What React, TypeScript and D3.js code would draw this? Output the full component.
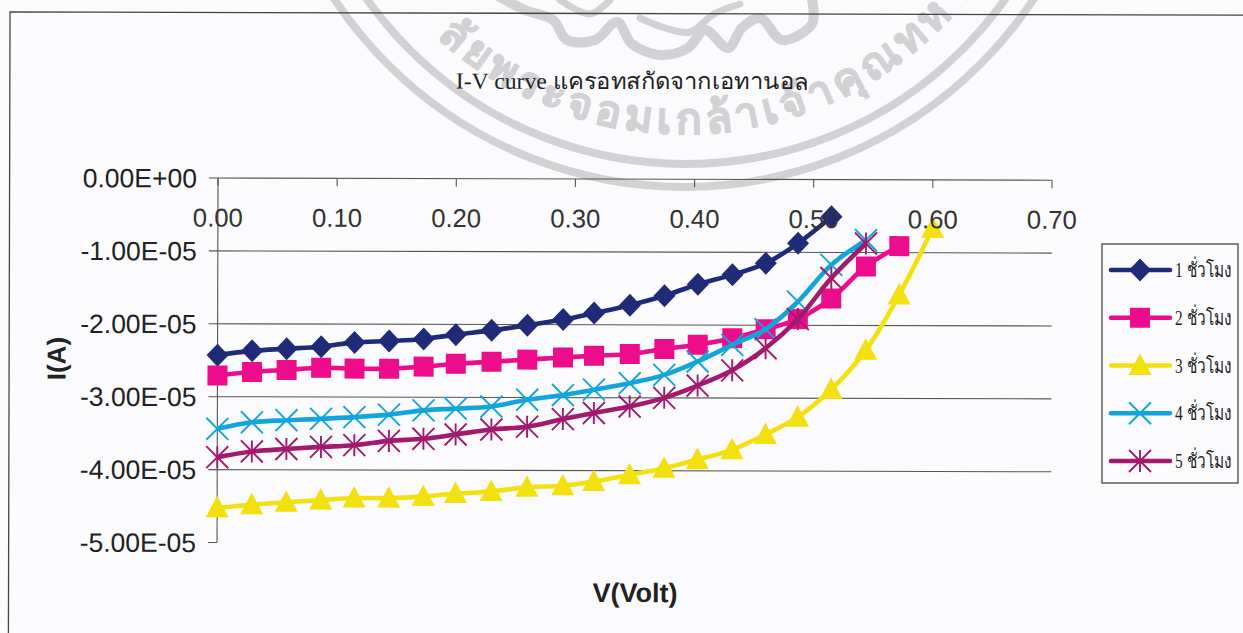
import React from "react";
import * as d3 from "d3";

const voltages = [0, .029, .058, .087, .115, .144, .173, .2, .23, .26, .29, .316, .346, .375, .403, .432, .46, .487, .515, .544, .572, .6];
const hour1 = [-2.43,-2.37,-2.34,-2.31,-2.25,-2.23,-2.20,-2.14,-2.08,-2.01,-1.93,-1.84,-1.73,-1.60,-1.44,-1.31,-1.15,-.875,-.51];
const hour2 = [-2.71,-2.66,-2.63,-2.60,-2.61,-2.61,-2.58,-2.54,-2.51,-2.48,-2.45,-2.425,-2.40,-2.33,-2.27,-2.18,-2.055,-1.915,-1.63,-1.19,-.91];
const hour3 = [-4.525,-4.48,-4.445,-4.415,-4.385,-4.385,-4.36,-4.32,-4.29,-4.23,-4.21,-4.15,-4.055,-3.965,-3.845,-3.71,-3.50,-3.26,-2.88,-2.34,-1.58,-.665];
const hour4 = [-3.44,-3.35,-3.32,-3.30,-3.275,-3.24,-3.18,-3.155,-3.125,-3.03,-2.965,-2.89,-2.80,-2.685,-2.50,-2.27,-2.055,-1.675,-1.17,-.83];
const hour5 = [-3.83,-3.75,-3.715,-3.685,-3.66,-3.60,-3.57,-3.51,-3.44,-3.40,-3.295,-3.21,-3.12,-3.00,-2.83,-2.62,-2.315,-1.915,-1.35,-.875];
const seriesValues = [hour1, hour2, hour3, hour4, hour5];
const seriesNames = ["1 ชั่วโมง", "2 ชั่วโมง", "3 ชั่วโมง", "4 ชั่วโมง", "5 ชั่วโมง"];
const seriesColors = ["#1f2a78", "#ec0c8c", "#f2e10f", "#12a5dc", "#a11a6e"];
const seriesMarkers = ["diamond", "square", "triangle", "x", "star"];
const xTicks = [0, .1, .2, .3, .4, .5, .6, .7];
const yTicks = [0, -1, -2, -3, -4, -5];
const yLabels = ["0.00E+00", "-1.00E-05", "-2.00E-05", "-3.00E-05", "-4.00E-05", "-5.00E-05"];

const x = d3.scaleLinear().domain([0, .7]).range([218, 1052]);
const y = d3.scaleLinear().domain([0, -5]).range([178, 542.5]);
const sans = "'Liberation Sans', Arial, sans-serif";
const serif = "'Liberation Serif', 'Times New Roman', serif";
const ink = "#222";
const sealColor = "#d2d2d5";

function Marker({ kind, cx, cy, color }: { kind: string; cx: number; cy: number; color: string }) {
  const t = `translate(${cx},${cy})`;
  if (kind === "diamond") return <path transform={t} d="M0,-11.5L11,0L0,11.5L-11,0Z" fill={color} />;
  if (kind === "square") return <rect transform={t} x={-10} y={-10} width={20} height={20} fill={color} />;
  if (kind === "triangle") return <path transform={t} d="M0,-12L11.5,9.5L-11.5,9.5Z" fill={color} />;
  const s = 11;
  return (
    <g transform={t} stroke={color} strokeWidth={1.9}>
      <path d={`M${-s},${-s}L${s},${s}M${-s},${s}L${s},${-s}`} />
      {kind === "star" && <path d={`M0,${-s}L0,${s}`} />}
    </g>
  );
}

const sealLine = d3.line().curve(d3.curveCatmullRom.alpha(0.5));
const sealStrokes: [number, number][][] = [
  [[498,-4],[525,10],[553,20],[567,40],[595,40],[617,22],[632,44],[660,55],[688,48],[705,30],[728,48],[742,28],[760,18],[782,40],[812,24],[812,0]],
  [[640,18],[665,28],[690,32],[714,14],[740,4]],
  [[560,0],[590,14],[610,0]],
];

export default function App() {
  const line = d3.line<[number, number]>().curve(d3.curveCatmullRom.alpha(0.5));
  return (
    <svg width={1243} height={633} viewBox="0 0 1243 633" style={{ position: "absolute", left: 0, top: 0, display: "block", background: "#fbfbfd" }}>
      <g>
        <path id="ringBaseline" d="M321,-229 A363,363 0 0 0 1047,-229" fill="none" />
        <circle cx={684} cy={-232} r={419} fill="none" stroke={sealColor} strokeWidth={8} />
        <circle cx={686} cy={-227} r={391} fill="none" stroke={sealColor} strokeWidth={8} />
        <text fontFamily="'Noto Sans', 'DejaVu Sans', sans-serif" fontWeight={700} fontSize={43} fill={sealColor} stroke={sealColor} strokeWidth={1.2} letterSpacing={5}>
          <textPath href="#ringBaseline" startOffset="54%" textAnchor="middle">ลัยพระจอมเกล้าเจ้าคุณทหาร</textPath>
        </text>
        {sealStrokes.map((s, i) => (
          <path key={i} d={sealLine(s) || ""} fill="none" stroke={sealColor} strokeWidth={i === 0 ? 10 : 7} strokeLinecap="round" />
        ))}
      </g>
      <g transform="rotate(0.15 218 178)">
        <path d="M9.6,640V12.5H1260" fill="none" stroke="#444" strokeWidth={1.3} />
        <text x={632} y={88} textAnchor="middle" fontFamily={serif} fontSize={23} fill={ink} textLength={353} lengthAdjust="spacingAndGlyphs">I-V curve แครอทสกัดจากเอทานอล</text>

        {yTicks.map((t) => (
          <line key={t} x1={209} x2={1052} y1={y(t)} y2={y(t)} stroke={t === -5 ? "none" : "#555"} strokeWidth={1.1} />
        ))}
        <line x1={209} x2={218} y1={y(-5)} y2={y(-5)} stroke="#555" strokeWidth={1.1} />
        <line x1={218} x2={218} y1={y(0)} y2={y(-5)} stroke="#555" strokeWidth={1.1} />
        {xTicks.map((t) => (
          <line key={t} x1={x(t)} x2={x(t)} y1={y(0)} y2={y(0) + 8} stroke="#555" strokeWidth={1.1} />
        ))}

        {seriesValues.map((vals, i) => {
          const pts = vals.map((v, k) => [x(voltages[k]), y(v)] as [number, number]);
          return (
            <g key={i}>
              <path d={line(pts) || ""} fill="none" stroke={seriesColors[i]} strokeWidth={4.6} />
              {pts.map((p, k) => (
                <Marker key={k} kind={seriesMarkers[i]} cx={p[0]} cy={p[1]} color={seriesColors[i]} />
              ))}
            </g>
          );
        })}

        {yTicks.map((t, i) => (
          <text key={t} x={197} y={y(t) + 9.5} textAnchor="end" fontFamily={sans} fontSize={26.5} fill={ink}>{yLabels[i]}</text>
        ))}
        {xTicks.map((t) => (
          <text key={t} x={x(t)} y={226.5} textAnchor="middle" fontFamily={sans} fontSize={25.7} fill="#333">{d3.format(".2f")(t)}</text>
        ))}
        <text x={636} y={601} textAnchor="middle" fontFamily={sans} fontWeight={700} fontSize={27} fill={ink}>V(Volt)</text>
        <text transform="translate(66,359) rotate(-90)" textAnchor="middle" fontFamily={sans} fontWeight={700} fontSize={26} fill={ink}>I(A)</text>
      </g>

      <rect x={1102} y={244} width={136} height={239} fill="#fbfbfd" stroke="#444" strokeWidth={1.3} />
      {seriesNames.map((name, i) => {
        const ry = d3.scaleLinear().domain([0, 4]).range([270, 461])(i);
        return (
          <g key={name}>
            <line x1={1111} x2={1170} y1={ry} y2={ry} stroke={seriesColors[i]} strokeWidth={4.6} strokeLinecap="round" />
            <Marker kind={seriesMarkers[i]} cx={1140} cy={ry} color={seriesColors[i]} />
            <text x={1175} y={ry + 7} fontFamily={serif} fontSize={20} fill={ink} textLength={57} lengthAdjust="spacingAndGlyphs">{name}</text>
          </g>
        );
      })}
    </svg>
  );
}
